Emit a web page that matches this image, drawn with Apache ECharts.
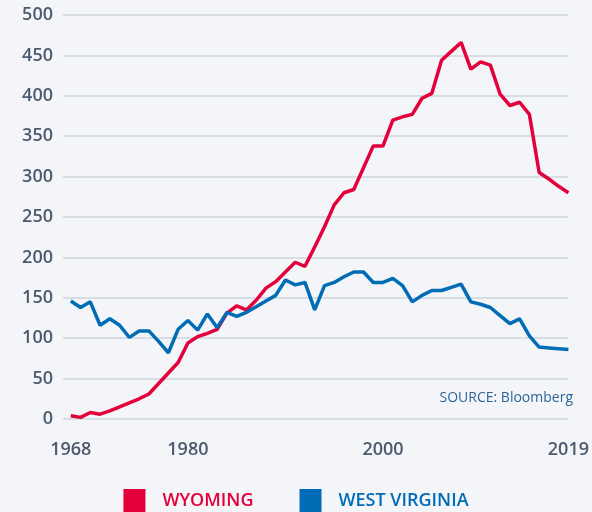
<!DOCTYPE html>
<html>
<head>
<meta charset="utf-8">
<script src="https://cdn.jsdelivr.net/npm/echarts@6/dist/echarts.min.js"></script>
<style>
  html, body { margin: 0; padding: 0; background: #f3f5f9; }
  #chart { width: 592px; height: 512px; }
</style>
</head>
<body>
<div id="chart"></div>
<script>
// years 1968..2019
const years = [
  1968, 1969, 1970, 1971, 1972, 1973, 1974, 1975, 1976, 1977,
  1978, 1979, 1980, 1981, 1982, 1983, 1984, 1985, 1986, 1987,
  1988, 1989, 1990, 1991, 1992, 1993, 1994, 1995, 1996, 1997,
  1998, 1999, 2000, 2001, 2002, 2003, 2004, 2005, 2006, 2007,
  2008, 2009, 2010, 2011, 2012, 2013, 2014, 2015, 2016, 2017,
  2018, 2019
]
const wyoming = [
  4, 2, 8, 6, 10, 15, 20, 25, 31, 44,
  57, 70, 94, 102, 106, 111, 131, 140, 135, 147,
  162, 170, 182, 194, 189, 213, 238, 265, 280, 284,
  311, 338, 338, 370, 374, 377, 397, 403, 444, 455,
  466, 433, 442, 438, 402, 388, 392, 377, 305, 297,
  288, 280
]
const westVirginia = [
  146, 138, 145, 116, 124, 116, 101, 109, 109, 96,
  82, 111, 122, 110, 130, 113, 132, 127, 132, 139,
  146, 153, 172, 166, 169, 135, 165, 169, 176, 182,
  182, 169, 169, 174, 165, 145, 153, 159, 159, 163,
  167, 145, 142, 138, 128, 118, 124, 103, 89, 88,
  87, 86
]
const yearLabels = [1968, 1980, 2000, 2019]
const seriesNames = ['WYOMING', 'WEST VIRGINIA']
const colors = ['#e4003b', '#006cb5']

const labelFont = '"Open Sans", sans-serif'
const chart = echarts.init(document.getElementById('chart'))

const pairs = (vals) => years.map((y, i) => [y, vals[i]])

chart.setOption({
  backgroundColor: '#f3f5f9',
  animation: false,
  grid: { left: 63, right: 19, top: 15, bottom: 93, containLabel: false },
  legend: {
    bottom: -6,
    left: 'center',
    icon: 'rect',
    itemWidth: 22,
    itemHeight: 24,
    itemGap: 46,
    data: seriesNames.map((n, i) => ({
      name: n,
      textStyle: { color: colors[i] }
    })),
    textStyle: { fontFamily: labelFont, fontSize: 18, fontWeight: 600, padding: [0, 0, 0, 12] }
  },
  xAxis: {
    type: 'value',
    min: 1967.2,
    max: 2019,
    axisLine: { show: false },
    axisTick: { show: false },
    splitLine: { show: false },
    axisLabel: {
      customValues: yearLabels,
      color: '#4b5b6d',
      fontFamily: labelFont,
      fontSize: 18,
      fontWeight: 600,
      margin: 22,
      formatter: (v) => String(v)
    }
  },
  yAxis: {
    type: 'value',
    min: 0,
    max: 500,
    interval: 50,
    axisLine: { show: false },
    axisTick: { show: false },
    axisLabel: {
      color: '#4b5b6d',
      fontFamily: labelFont,
      fontSize: 18,
      fontWeight: 600,
      margin: 10
    },
    splitLine: { lineStyle: { color: '#cdd5de', width: 1.5 } }
  },
  graphic: [{
    type: 'text',
    right: 19,
    top: 391,
    style: {
      text: 'SOURCE: Bloomberg',
      fill: '#2e6597',
      font: '14px "Open Sans", sans-serif'
    }
  }],
  series: [
    {
      name: seriesNames[0],
      type: 'line',
      data: pairs(wyoming),
      showSymbol: false,
      lineStyle: { color: colors[0], width: 3.5 },
      itemStyle: { color: colors[0] },
      z: 2
    },
    {
      name: seriesNames[1],
      type: 'line',
      data: pairs(westVirginia),
      showSymbol: false,
      lineStyle: { color: colors[1], width: 3.5 },
      itemStyle: { color: colors[1] },
      z: 3
    }
  ]
})
</script>
</body>
</html>
